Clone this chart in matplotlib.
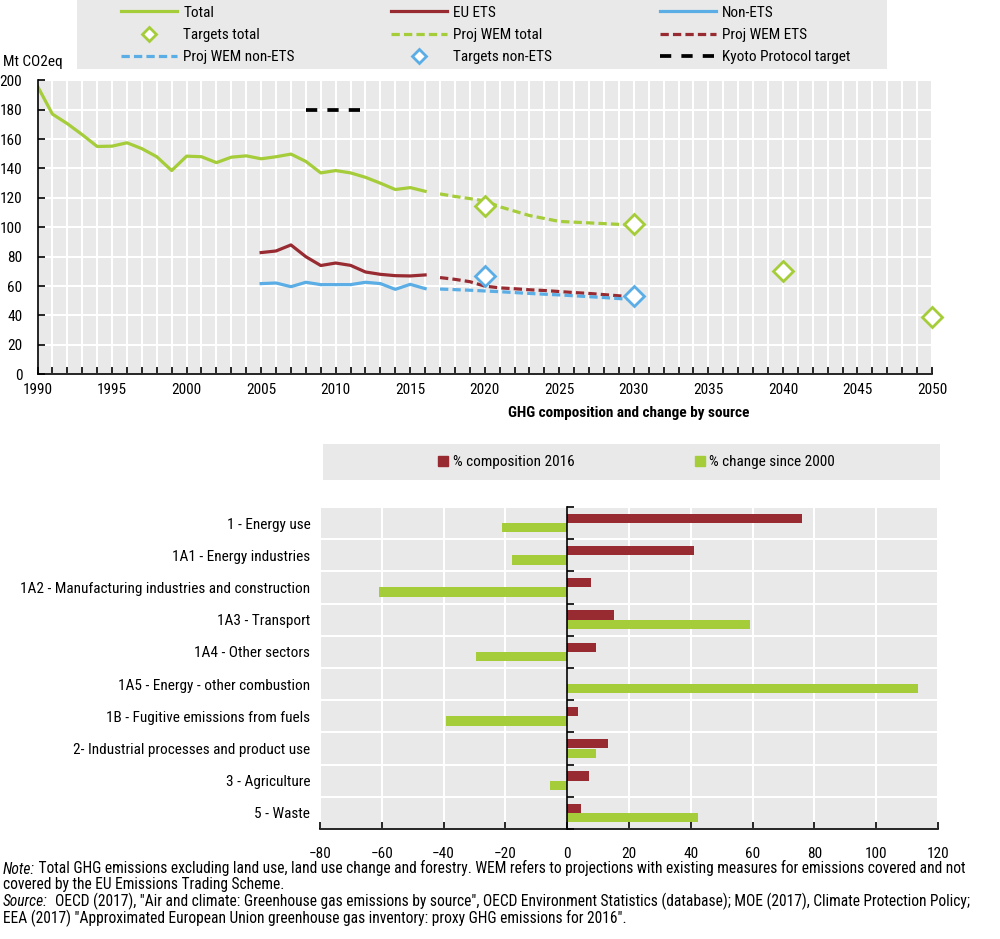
import numpy as np
import matplotlib
matplotlib.use('Agg')
import matplotlib.pyplot as plt
from matplotlib import font_manager
from matplotlib.patches import Rectangle, Patch

# pick a condensed font (Arial Narrow look-alike) if there is one
names = set(f.name for f in font_manager.fontManager.ttflist)
narrow = [n for n in ['Arial Narrow', 'Liberation Sans Narrow', 'Roboto Condensed',
                      'Archivo Narrow', 'PT Sans Narrow', 'Liberation Sans'] if n in names]
plt.rcParams['font.family'] = narrow[:1] + ['DejaVu Sans']

# ---- data: emissions (Mt CO2eq) ----
years_hist = list(range(1990, 2017))
total = [196, 177, 170.5, 163, 155, 155.2, 157.5, 153.5, 148, 138.6,
         148.4, 148, 144, 147.7, 148.6, 146.6, 148, 149.8, 144.8, 137,
         138.6, 137, 134, 130, 125.7, 127, 124.5]
years_ets = list(range(2005, 2017))
eu_ets = [82.8, 83.9, 88, 80, 74, 75.7, 74.1, 69.6, 68, 67.1, 66.9, 67.6]
non_ets = [61.7, 62.1, 59.6, 62.6, 61, 61, 61, 62.6, 61.7, 57.8, 61.2, 58.3]

years_proj = list(range(2017, 2031))
proj_total = [122.7, 121, 119.5, 118, 114, 111, 108, 106, 104, 103.5,
              103, 102.5, 102, 101.5]
proj_ets = [65.8, 64.6, 63, 60, 58.8, 58.2, 57.5, 57, 56.3, 55.6,
            55, 54.2, 53.4, 52.5]
proj_non_ets = [58, 57.6, 57.2, 56.7, 56.2, 55.6, 55, 54.5, 54, 53.4,
                52.8, 52.2, 51.5, 50.8]

target_years = [2020, 2030, 2040, 2050]
targets_total = [114.7, 102.5, 70.3, 39.2]
target_years_non_ets = [2020, 2030]
targets_non_ets = [67.1, 53]
kyoto_years = [2008, 2012]
kyoto = [180, 180]

# ---- data: composition and change by source (%) ----
sources = ['1 - Energy use', '1A1 - Energy industries',
           '1A2 - Manufacturing industries and construction', '1A3 - Transport',
           '1A4 - Other sectors', '1A5 - Energy - other combustion',
           '1B - Fugitive emissions from fuels',
           '2- Industrial processes and product use', '3 - Agriculture', '5 - Waste']
comp_2016 = [76, 41, 7.6, 15.2, 9.4, 0, 3.6, 13.1, 6.9, 4.4]
change_2000 = [-21.2, -17.8, -60.8, 59.2, -29.4, 113.6, -39.3, 9.2, -5.5, 42.2]

green = '#a5cc39'
red = '#982a31'
blue = '#5aade5'
bg = '#e9e9e9'
fs = 11
H = 939

fig = plt.figure(figsize=(10, 9.39), dpi=100)

# ================= top chart =================
ax = fig.add_axes([0.0375, 1 - 374.3 / H, 0.8945, (374.3 - 80.3) / H])
ax.set_facecolor(bg)
lw = 2.3
dash = (0, (2.6, 1.3))
l_total, = ax.plot(years_hist, total, color=green, lw=lw)
l_ets, = ax.plot(years_ets, eu_ets, color=red, lw=lw)
l_non, = ax.plot(years_ets, non_ets, color=blue, lw=lw)
l_ptot, = ax.plot(years_proj, proj_total, color=green, lw=lw, ls=dash)
l_pets, = ax.plot(years_proj, proj_ets, color=red, lw=lw, ls=dash)
l_pnon, = ax.plot(years_proj, proj_non_ets, color=blue, lw=lw, ls=dash)
l_kyoto, = ax.plot(kyoto_years, kyoto, color='black', lw=2.7, ls=(0, (3, 2.7)))
l_ttot, = ax.plot(target_years, targets_total, ls='none', marker='D', ms=10,
                  mfc='white', mec=green, mew=2, clip_on=False, zorder=5)
l_tnon, = ax.plot(target_years_non_ets, targets_non_ets, ls='none', marker='D', ms=10,
                  mfc='white', mec=blue, mew=2, zorder=5)

ax.set_xlim(1990, 2050)
ax.set_ylim(0, 200)
ax.set_xticks(range(1990, 2051, 5))
ax.set_xticks(range(1990, 2051), minor=True)
ax.set_yticks(range(0, 201, 20))
ax.grid(True, which='both', color='white', lw=1.5)
ax.set_axisbelow(True)
for s in ['top', 'right']:
    ax.spines[s].set_visible(False)
ax.spines['left'].set_linewidth(1.2)
ax.spines['bottom'].set_linewidth(1.2)
ax.tick_params(axis='x', which='both', direction='in', length=5, width=1.2,
               labelsize=fs, pad=6)
ax.tick_params(axis='y', direction='in', length=5, width=1.2, labelsize=fs, pad=11)
fig.text(0.003, 1 - 62 / H, 'Mt CO2eq', fontsize=fs, va='center', ha='left')

# legend box for top chart
fig.patches.append(Rectangle((0.077, 1 - 69 / H), 0.81, 69 / H,
                             transform=fig.transFigure, facecolor=bg,
                             edgecolor='none', zorder=0))
cols = [([l_total, l_ttot, l_pnon], ['Total', 'Targets total', 'Proj WEM non-ETS']),
        ([l_ets, l_ptot, l_tnon], ['EU ETS', 'Proj WEM total', 'Targets non-ETS']),
        ([l_non, l_pets, l_kyoto], ['Non-ETS', 'Proj WEM ETS', 'Kyoto Protocol target'])]
col_x = [0.119, 0.389, 0.658]
for (h, lab), cx in zip(cols, col_x):
    fig.legend(h, lab, loc='upper left', bbox_to_anchor=(cx, 1 - 4 / H),
               bbox_transform=fig.transFigure, frameon=False, fontsize=fs,
               handlelength=3.7, handletextpad=0.4, labelspacing=0.55,
               borderpad=0.1, borderaxespad=0, markerscale=0.7)

fig.text(0.629, 1 - 413 / H, 'GHG composition and change by source',
         fontsize=fs, fontweight='bold', ha='center', va='center')

# ================= bottom chart =================
bx = fig.add_axes([0.32, 1 - 829 / H, 0.618, (829 - 507) / H])
bx.set_facecolor(bg)
y = np.arange(len(sources))
bh = 0.29
bx.barh(y - bh / 2, comp_2016, height=bh, color=red, zorder=3)
bx.barh(y + bh / 2, change_2000, height=bh, color=green, zorder=3)
bx.set_xlim(-80, 120)
bx.set_ylim(len(sources) - 0.5, -0.5)
bx.set_xticks(range(-80, 121, 20))
bx.set_yticks(y, sources)
bx.set_yticks(np.arange(-0.5, len(sources)), minor=True)
bx.grid(True, axis='x', color='white', lw=1.5)
bx.grid(True, axis='y', which='minor', color='white', lw=1.5)
bx.set_axisbelow(True)
for s in ['top', 'right', 'left']:
    bx.spines[s].set_visible(False)
bx.spines['bottom'].set_linewidth(1.2)
bx.tick_params(axis='x', direction='in', length=5, width=1.2, labelsize=fs, pad=13)
bx.tick_params(axis='y', which='both', length=0, labelsize=fs, pad=7)

# zero line with small ticks at category boundaries
zx = bx.twinx()
zx.set_ylim(bx.get_ylim())
zx.patch.set_visible(False)
for s in ['top', 'left', 'bottom']:
    zx.spines[s].set_visible(False)
zx.spines['right'].set_position(('data', 0))
zx.spines['right'].set_linewidth(1.2)
zx.spines['right'].set_zorder(4)
zx.set_yticks(np.arange(-0.5, len(sources)))
zx.set_yticklabels([])
zx.tick_params(axis='y', direction='out', length=5, width=1.2)

fig.patches.append(Rectangle((0.323, 1 - 480 / H), 0.617, 36 / H,
                             transform=fig.transFigure, facecolor=bg,
                             edgecolor='none', zorder=0))
fig.legend([Patch(color=red), Patch(color=green)],
           ['% composition 2016', '% change since 2000'],
           loc='center left', bbox_to_anchor=(0.438, 1 - 462 / H),
           bbox_transform=fig.transFigure, ncol=2, frameon=False, fontsize=fs,
           handlelength=0.65, handleheight=0.65, handletextpad=0.3,
           columnspacing=7.9, borderpad=0, borderaxespad=0)

# ================= notes =================
nfs = 11.2
lines = [('Note:', ' Total GHG emissions excluding land use, land use change and forestry. '
          'WEM refers to projections with existing measures for emissions covered and not'),
         ('', 'covered by the EU Emissions Trading Scheme.'),
         ('Source:', '  OECD (2017), "Air and climate: Greenhouse gas emissions by source", '
          'OECD Environment Statistics (database); MOE (2017), Climate Protection Policy;'),
         ('', 'EEA (2017) "Approximated European Union greenhouse gas inventory: '
          'proxy GHG emissions for 2016".')]
ys = [869, 885, 902, 918]
for (it, rest), yy in zip(lines, ys):
    if it:
        t = fig.text(0.003, 1 - yy / H, it, fontsize=nfs, style='italic',
                     ha='left', va='center')
        ax.annotate(rest, xy=(1, 0), xycoords=t, fontsize=nfs,
                    ha='left', va='bottom', annotation_clip=False)
    else:
        fig.text(0.003, 1 - yy / H, rest, fontsize=nfs, ha='left', va='center')

fig.savefig('out.png', dpi=100)
